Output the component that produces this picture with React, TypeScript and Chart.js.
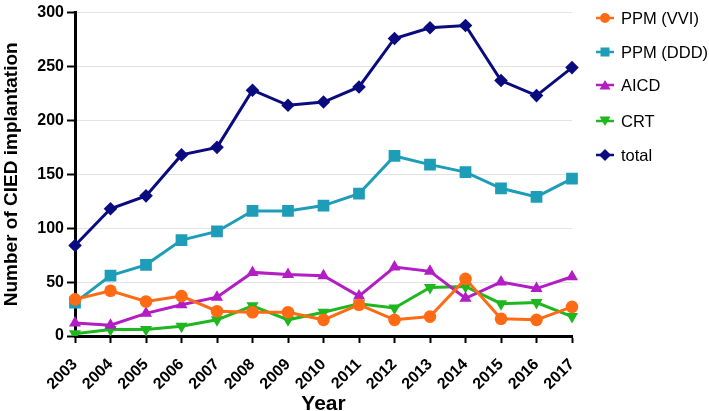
import React, { useEffect, useRef } from "react";
import { Chart, registerables } from "chart.js";

Chart.register(...registerables);

const years = ["2003", "2004", "2005", "2006", "2007", "2008", "2009", "2010", "2011", "2012", "2013", "2014", "2015", "2016", "2017"];
const ppmVVI = [34, 42, 32, 37, 23, 22, 22, 15, 29, 15, 18, 53, 16, 15, 27];
const ppmDDD = [31, 56, 66, 89, 97, 116, 116, 121, 132, 167, 159, 152, 137, 129, 146];
const aicd = [12, 10, 21, 29, 36, 59, 57, 56, 37, 64, 60, 35, 50, 44, 55];
const crt = [2, 6, 6, 9, 15, 28, 15, 22, 30, 26, 45, 46, 30, 31, 18];
const total = [84, 118, 130, 168, 175, 228, 214, 217, 231, 276, 286, 288, 237, 223, 249];

const yTicks = [0, 50, 100, 150, 200, 250, 300];

const FONT = "'Liberation Sans', Arial, Helvetica, sans-serif";

const series = [
  { label: "PPM (VVI)", data: ppmVVI, color: "#FF6A14", style: "circle", rot: 0, r: 6.3 },
  { label: "PPM (DDD)", data: ppmDDD, color: "#1E9DB8", style: "rect", rot: 0, r: 8.3 },
  { label: "AICD", data: aicd, color: "#B21DC4", style: "triangle", rot: 0, r: 7 },
  { label: "CRT", data: crt, color: "#1FB71F", style: "triangle", rot: 180, r: 7 },
  { label: "total", data: total, color: "#0B0B80", style: "rectRot", rot: 0, r: 6.8 },
];

const legendTops = [18, 52, 85, 121, 155];

function LegendIcon({ color, style, rot }: { color: string; style: string; rot: number }) {
  let shape: any = null;
  if (style === "circle") shape = <circle cx="9" cy="8" r="5" fill={color} />;
  else if (style === "rect") shape = <rect x="4.5" y="3.5" width="9" height="9" fill={color} />;
  else if (style === "triangle")
    shape = (
      <polygon
        points="9,3 14.5,12.5 3.5,12.5"
        fill={color}
        transform={rot ? "rotate(180 9 8)" : undefined}
      />
    );
  else shape = <polygon points="9,2 15,8 9,14 3,8" fill={color} />;
  return (
    <svg width="18" height="16" style={{ display: "block" }}>
      <line x1="0" y1="8" x2="18" y2="8" stroke={color} strokeWidth="2.5" />
      {shape}
    </svg>
  );
}

export default function App() {
  const ref = useRef<HTMLCanvasElement | null>(null);

  useEffect(() => {
    if (!ref.current) return;
    const chart = new Chart(ref.current, {
      type: "line",
      data: {
        labels: years,
        datasets: series.map((s) => ({
          label: s.label,
          data: s.data,
          borderColor: s.color,
          backgroundColor: s.color,
          borderWidth: 3,
          pointStyle: s.style as any,
          rotation: s.rot,
          pointRadius: s.r,
          pointBorderWidth: 0,
          pointBackgroundColor: s.color,
          tension: 0,
          fill: false,
        })),
      },
      options: {
        responsive: false,
        animation: false,
        layout: { padding: { top: 6, right: 137, left: 0, bottom: 0 } },
        plugins: { legend: { display: false }, tooltip: { enabled: false } },
        scales: {
          x: {
            type: "category",
            offset: false,
            grid: { drawOnChartArea: false, drawTicks: true, tickLength: 7, tickColor: "#000", tickWidth: 2 },
            border: { color: "#000", width: 3 },
            ticks: {
              color: "#000",
              font: { family: FONT, size: 16, weight: "bold" },
              maxRotation: 45,
              minRotation: 45,
              autoSkip: false,
              padding: 12,
            },
            title: {
              display: true,
              text: "Year",
              color: "#000",
              font: { family: FONT, size: 21, weight: "bold", lineHeight: 0.6 },
              padding: { top: 0, bottom: 0 },
            },
            afterFit: (scale: any) => {
              scale.height = 75;
            },
          },
          y: {
            min: 0,
            max: 300,
            afterBuildTicks: (scale: any) => {
              scale.ticks = yTicks.map((v) => ({ value: v }));
            },
            grid: { color: "#e2e2e2", lineWidth: 1, tickColor: "#000", tickLength: 8, tickWidth: 2 },
            border: { color: "#000", width: 3 },
            ticks: {
              color: "#000",
              font: { family: FONT, size: 16, weight: "bold" },
              padding: 3,
            },
            title: {
              display: true,
              text: "Number of CIED implantation",
              color: "#000",
              font: { family: FONT, size: 19, weight: "bold" },
              padding: { top: 0, bottom: 2 },
            },
            afterFit: (scale: any) => {
              scale.width = 75;
            },
          },
        },
      },
    });
    return () => chart.destroy();
  }, []);

  return (
    <div style={{ position: "absolute", left: 0, top: 0, width: 709, height: 411, background: "#fff" }}>
      <canvas ref={ref} width={709} height={411} style={{ display: "block" }} />
      {series.map((s, i) => (
        <div
          key={s.label}
          style={{
            position: "absolute",
            left: 596,
            top: legendTops[i] - 10,
            height: 20,
            display: "flex",
            alignItems: "center",
            fontFamily: FONT,
            fontSize: 16.5,
            color: "#000",
            whiteSpace: "nowrap",
          }}
        >
          <LegendIcon color={s.color} style={s.style} rot={s.rot} />
          <span style={{ marginLeft: 7 }}>{s.label}</span>
        </div>
      ))}
    </div>
  );
}
